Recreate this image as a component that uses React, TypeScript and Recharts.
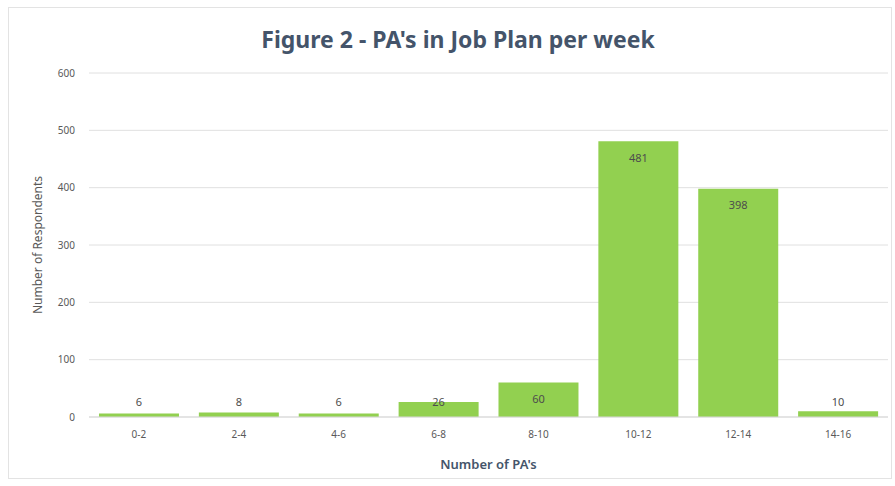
import React from "react"
import { BarChart, Bar, XAxis, YAxis, CartesianGrid, LabelList } from "recharts"

// buckets of PA's per week and respondent counts
const categories = ["0-2", "2-4", "4-6", "6-8", "8-10", "10-12", "12-14", "14-16"]
const respondents = [6, 8, 6, 26, 60, 481, 398, 10]
const yTicks = [0, 100, 200, 300, 400, 500, 600]

const data = categories.map((c, i) => ({ range: c, count: respondents[i] }))

const FONT = "'Noto Sans', 'Open Sans', sans-serif"

// Excel style "inside end" label, kept above the axis for short bars
const BarLabel = (props: any) => {
  const { x, y, width, height, value } = props
  const base = y + height
  const cy = Math.min(y + 16, base - 16)
  return (
    <text
      x={x + width / 2}
      y={cy}
      textAnchor="middle"
      dominantBaseline="central"
      fontSize={11}
      fontFamily={FONT}
      fill="#4d4d4d"
    >
      {value}
    </text>
  )
}

export default function App() {
  return (
    <div style={{ position: "absolute", left: 0, top: 0, width: 895, height: 486, background: "#fff" }}>
      <div
        style={{
          position: "absolute",
          left: 8,
          top: 7,
          width: 884,
          height: 472,
          border: "1px solid #e3e3e3",
          boxSizing: "border-box",
        }}
      />
      <div
        style={{
          position: "absolute",
          left: 0,
          top: 23,
          width: 916,
          textAlign: "center",
          fontFamily: FONT,
          fontWeight: 700,
          fontSize: 23,
          lineHeight: "32px",
          color: "#44546a",
        }}
      >
        Figure 2 - PA's in Job Plan per week
      </div>
      <BarChart
        width={895}
        height={486}
        data={data}
        margin={{ top: 73, right: 7, bottom: 0, left: 0 }}
        barCategoryGap="10%"
        style={{ position: "absolute", left: 0, top: 0 }}
      >
        <CartesianGrid vertical={false} stroke="#e0e0e0" />
        <XAxis
          dataKey="range"
          tickLine={false}
          axisLine={{ stroke: "#d9d9d9" }}
          tickSize={0}
          tickMargin={14}
          tick={{ fontSize: 10, fill: "#595959", fontFamily: FONT }}
          height={69}
          label={{
            value: "Number of PA's",
            position: "insideBottom",
            offset: 17,
            fontSize: 13,
            fontWeight: 600,
            fill: "#44546a",
            fontFamily: FONT,
          }}
        />
        <YAxis
          width={89}
          domain={[0, 600]}
          ticks={yTicks}
          axisLine={false}
          tickLine={false}
          tickSize={0}
          tickMargin={14}
          tick={{ fontSize: 10, fill: "#595959", fontFamily: FONT }}
          label={{
            value: "Number of Respondents",
            angle: -90,
            position: "insideLeft",
            offset: 38,
            style: { textAnchor: "middle" },
            fontSize: 12,
            fill: "#595959",
            fontFamily: FONT,
          }}
        />
        <Bar dataKey="count" fill="#92d050" isAnimationActive={false}>
          <LabelList dataKey="count" content={BarLabel} />
        </Bar>
      </BarChart>
    </div>
  )
}
